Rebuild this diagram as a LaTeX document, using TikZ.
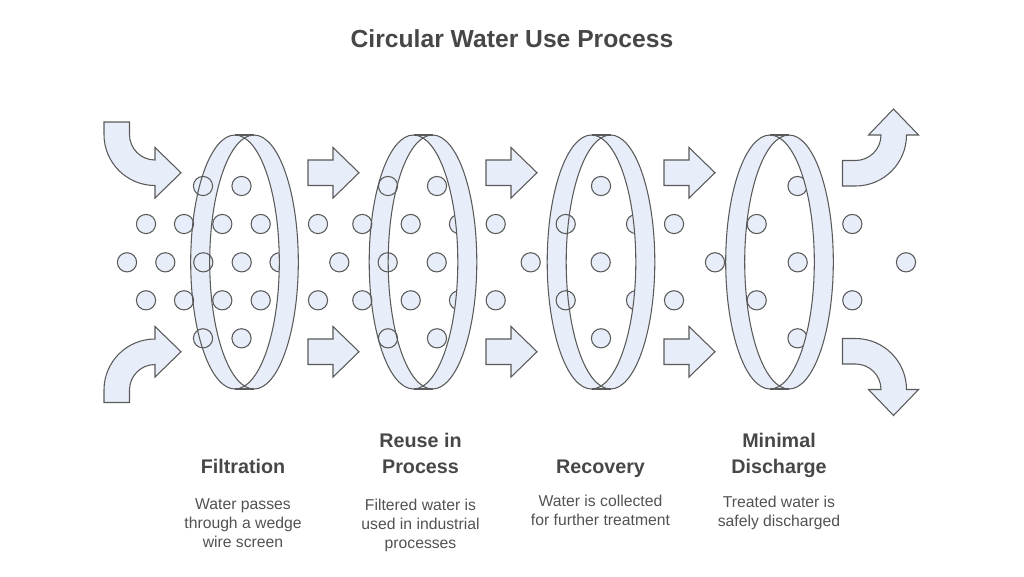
\documentclass[tikz,border=0pt]{standalone}
\usepackage{fontspec}
\setmainfont{Liberation Sans}
\definecolor{ringblue}{HTML}{E8EEF9}
\definecolor{ringgray}{HTML}{5A5A5A}
\definecolor{titlegray}{HTML}{474747}
\definecolor{descgray}{HTML}{525252}

\newcommand{\ringback}[1]{%
  \fill[bandfill] (#1-9.5,135) rectangle (#1+9.5,389);
  \fill[bandfill] (#1-9.5,262) ellipse (44.3 and 127);
  \begin{scope}
    \clip (#1-9.5,262) ellipse (44.3 and 127);
    \fill[white] (#1+9.5,262) ellipse (44.3 and 127);
  \end{scope}}
\newcommand{\ringfront}[1]{%
  \begin{scope}
    \clip (#1+9.5,262) ellipse (44.3 and 127);
    \fill[bandfill,even odd rule] (#1-9.5,262) ellipse (44.3 and 127) (#1-60,120) rectangle (#1+60,400);
  \end{scope}
  \draw[bandline] (#1-9.5,262) ellipse (44.3 and 127);
  \draw[bandline] (#1+9.5,262) ellipse (44.3 and 127);
  \draw[bandline] (#1-9.5,135) -- (#1+9.5,135) (#1-9.5,389) -- (#1+9.5,389);}
\newcommand{\flowarrow}[2]{%
  \draw[arrowbody] (#1,#2-12.75) -- (#1+25,#2-12.75) -- (#1+25,#2-25.25) -- (#1+51,#2)
    -- (#1+25,#2+25.25) -- (#1+25,#2+12.75) -- (#1,#2+12.75) -- cycle;}

\begin{document}
\begin{tikzpicture}[x=0.75pt,y=-0.75pt,
  bandfill/.style={fill=ringblue},
  bandline/.style={draw=ringgray,line width=0.8pt},
  waterdot/.style={draw=ringgray,fill=ringblue,line width=0.8pt},
  arrowbody/.style={draw=ringgray,fill=ringblue,line width=0.8pt,line join=miter},
  titletext/.style={text=titlegray,font=\fontsize{18.5pt}{22pt}\selectfont\bfseries,inner sep=0pt},
  headtext/.style={text=titlegray,align=center,font=\fontsize{14.8pt}{19.2pt}\selectfont\bfseries,inner sep=0pt},
  desctext/.style={text=descgray,align=center,font=\fontsize{11.8pt}{14.25pt}\selectfont,inner sep=0pt}]
\useasboundingbox (0,0) rectangle (1024,576);

\draw[arrowbody] (104,122) -- (104,134.5) arc (180:90:51) -- (155,198) -- (181,172.75) -- (155,147.5) -- (155,160) arc (90:180:25.5) -- (129.5,122) -- cycle;
\draw[arrowbody] (104,402.5) -- (104,390) arc (180:270:51) -- (155,326.5) -- (181,351.75) -- (155,377) -- (155,364.5) arc (270:180:25.5) -- (129.5,402.5) -- cycle;
\draw[arrowbody] (842.5,186) -- (855.5,186) arc (90:0:51) -- (918.5,135) -- (893.5,109) -- (868.5,135) -- (881,135) arc (0:90:25.5) -- (842.5,160.5) -- cycle;
\draw[arrowbody] (842.5,338.5) -- (855.5,338.5) arc (270:360:51) -- (918.5,389.5) -- (893.5,415.5) -- (868.5,389.5) -- (881,389.5) arc (360:270:25.5) -- (842.5,364) -- cycle;

\flowarrow{308}{172.75}
\flowarrow{308}{351.75}
\flowarrow{486}{172.75}
\flowarrow{486}{351.75}
\flowarrow{664}{172.75}
\flowarrow{664}{351.75}

\ringback{244.5}
\ringback{423}
\ringback{601}
\ringback{779.5}

\draw[waterdot] (203,186) circle (9.6) (241.5,186) circle (9.6) (388,186) circle (9.6) (437,186) circle (9.6) (601,186) circle (9.6) (797.5,186) circle (9.6);
\draw[waterdot] (146,224) circle (9.6) (184,224) circle (9.6) (222.3,224) circle (9.6) (260.7,224) circle (9.6) (318,224) circle (9.6) (362.3,224) circle (9.6) (410.7,224) circle (9.6);
\draw[waterdot] (459,224) circle (9.6) (495.7,224) circle (9.6) (565.7,224) circle (9.6) (636,224) circle (9.6) (674,224) circle (9.6) (756.7,224) circle (9.6) (852.3,224) circle (9.6);
\draw[waterdot] (127,262.3) circle (9.6) (165.3,262.3) circle (9.6) (203.3,262.3) circle (9.6) (241.7,262.3) circle (9.6) (279.5,262.3) circle (9.6) (339.3,262.3) circle (9.6) (387.7,262.3) circle (9.6);
\draw[waterdot] (436.7,262.3) circle (9.6) (530.7,262.3) circle (9.6) (600.7,262.3) circle (9.6) (715,262.3) circle (9.6) (797.7,262.3) circle (9.6) (906,262.3) circle (9.6);
\draw[waterdot] (146,300.3) circle (9.6) (184,300.3) circle (9.6) (222.3,300.3) circle (9.6) (260.7,300.3) circle (9.6) (318,300.3) circle (9.6) (362.3,300.3) circle (9.6) (410.7,300.3) circle (9.6);
\draw[waterdot] (459,300.3) circle (9.6) (495.7,300.3) circle (9.6) (565.7,300.3) circle (9.6) (636,300.3) circle (9.6) (674,300.3) circle (9.6) (756.7,300.3) circle (9.6) (852.3,300.3) circle (9.6);
\draw[waterdot] (203,338.3) circle (9.6) (241.5,338.3) circle (9.6) (388,338.3) circle (9.6) (437,338.3) circle (9.6) (601,338.3) circle (9.6) (797.5,338.3) circle (9.6);

\ringfront{244.5}
\ringfront{423}
\ringfront{601}
\ringfront{779.5}

\node[titletext] (title) at (512,39) {Circular Water Use Process};
\node[headtext] (filtration) at (243,466.2) {Filtration};
\node[headtext] (reuse) at (420.5,453.5) {Reuse in\\Process};
\node[headtext] (recovery) at (600.5,468.3) {Recovery};
\node[headtext] (discharge) at (779,455.5) {Minimal\\Discharge};
\node[desctext] (filtrationtext) at (243,523.6) {Water passes\\through a wedge\\wire screen};
\node[desctext] (reusetext) at (420.5,525.2) {Filtered water is\\used in industrial\\processes};
\node[desctext] (recoverytext) at (600.5,509.9) {Water is collected\\for further treatment};
\node[desctext] (dischargetext) at (779,512.7) {Treated water is\\safely discharged};
\end{tikzpicture}
\end{document}
